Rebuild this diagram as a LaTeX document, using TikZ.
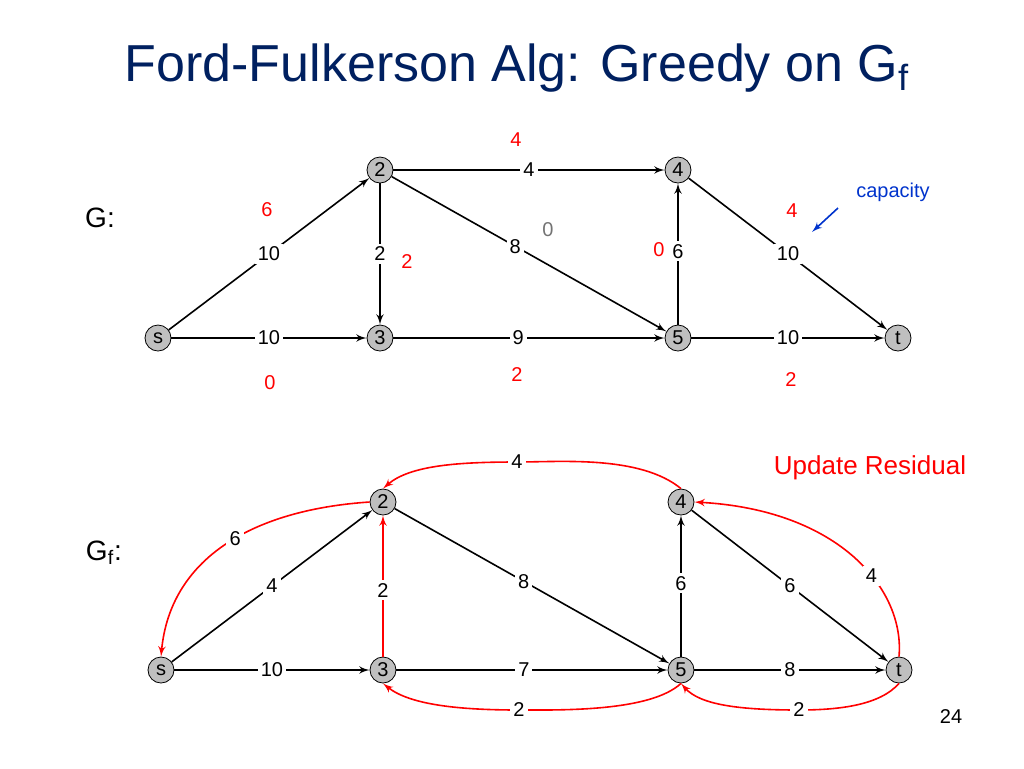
\documentclass[tikz,border=0pt]{standalone}
\usepackage{fontspec}
\setmainfont{Liberation Sans}
\usetikzlibrary{positioning,arrows,calc}
\definecolor{titleblue}{RGB}{0,32,96}
\definecolor{capblue}{RGB}{0,51,204}
\tikzset{
    vertex/.style = {
        draw,
        shape=circle,
        fill=black!25,
        inner sep=0pt,
        minimum size=13pt,
        font=\fontsize{10}{10}\selectfont
    },
    weight/.style = {
        fill=white,
        inner sep=1.5pt,
        font=\fontsize{10}{10}\selectfont
    },
    flow/.style = {
        text=red,
        font=\fontsize{10}{10}\selectfont
    },
    residual/.style = {
        draw=red,
        thick,
        ->
    },
    >=latex',
}
\begin{document}
\begin{tikzpicture}[x=0.5pt,y=-0.5pt]
                \useasboundingbox (0,0) rectangle (1024,768);
                \node[text=titleblue,font=\fontsize{26}{26}\selectfont] (title) at (517,68) {Ford-Fulkerson Alg: Greedy on G\textsubscript{f}};

                % network with flow
                \node[font=\fontsize{14}{14}\selectfont] (glabel) at (100,218) {G:};
                \node[vertex] (s) at (158,338) {s};
                \node[vertex] (two) at (380,170) {2};
                \node[vertex] (three) at (380,338) {3};
                \node[vertex] (four) at (678,170) {4};
                \node[vertex] (five) at (678,338) {5};
                \node[vertex] (t) at (898,338) {t};

                \path[draw, thick, ->] (s) -- node[weight, pos=0.5] {10} (two);
                \path[draw, thick, ->] (s) -- node[weight, pos=0.5] {10} (three);
                \path[draw, thick, ->] (two) -- node[weight] {4} (four);
                \path[draw, thick, ->] (two) -- node[weight] {2} (three);
                \path[draw, thick, ->] (two) -- node[weight, pos=0.45] {8} (five);
                \path[draw, thick, ->] (three) -- node[weight, pos=0.46] {9} (five);
                \path[draw, thick, ->] (five) -- node[weight, pos=0.52] {6} (four);
                \path[draw, thick, ->] (four) -- node[weight, pos=0.5] {10} (t);
                \path[draw, thick, ->] (five) -- node[weight, pos=0.5] {10} (t);

                \node[flow] (f24) at (516,140) {4};
                \node[flow] (fs2) at (267,210) {6};
                \node[text=black!55,font=\fontsize{10}{10}\selectfont] (f25) at (548,230) {0};
                \node[flow] (f54) at (659,250) {0};
                \node[flow] (f4t) at (792,211) {4};
                \node[flow] (f23) at (407,262) {2};
                \node[flow] (f35) at (517,375) {2};
                \node[flow] (fs3) at (270,383) {0};
                \node[flow] (f5t) at (791,380) {2};
                \node[text=capblue,font=\fontsize{10}{10}\selectfont] (cap) at (893,192) {capacity};
                \coordinate (captip) at (812,232);
                \path[draw, thick, ->, color=capblue] (838,208) -- (captip);

                % residual graph
                \node[font=\fontsize{14}{14}\selectfont] (gflabel) at (104,553) {G\textsubscript{f}:};
                \node[text=red,font=\fontsize{13}{13}\selectfont] (update) at (870,468) {Update Residual};
                \node[vertex] (rs) at (161,670) {s};
                \node[vertex] (rtwo) at (383,502) {2};
                \node[vertex] (rthree) at (383,670) {3};
                \node[vertex] (rfour) at (681,502) {4};
                \node[vertex] (rfive) at (681,670) {5};
                \node[vertex] (rt) at (899,670) {t};

                \path[draw, thick, ->] (rs) -- node[weight, pos=0.5] {4} (rtwo);
                \path[draw, thick, ->] (rs) -- node[weight, pos=0.5] {10} (rthree);
                \path[draw, thick, ->] (rtwo) -- node[weight, pos=0.47] {8} (rfive);
                \path[draw, thick, ->] (rthree) -- node[weight, pos=0.47] {7} (rfive);
                \path[draw, thick, ->] (rfive) -- node[weight, pos=0.52] {6} (rfour);
                \path[draw, thick, ->] (rfour) -- node[weight, pos=0.5] {6} (rt);
                \path[draw, thick, ->] (rfive) -- node[weight, pos=0.5] {8} (rt);

                \path[residual] (rthree) -- node[weight, pos=0.47] {2} (rtwo);
                \path[residual] (rtwo.west) .. controls (250,510) and (170,560) .. node[weight, pos=0.45] {6} (rs.north);
                \path[residual] (rfour.north) .. controls (640,455) and (560,462) .. (517,462) node[weight] (r42) {4}
                    .. controls (460,462) and (410,465) .. (rtwo.north);
                \path[residual] (rt.north) .. controls (905,590) and (840,510) .. node[weight, pos=0.4] {4} (rfour.east);
                \path[residual] (rfive.south) .. controls (650,712) and (560,710) .. (519,710) node[weight] (r53) {2}
                    .. controls (460,710) and (410,705) .. (rthree.south);
                \path[residual] (rt.south) .. controls (880,705) and (840,710) .. (799,710) node[weight] (rt5) {2}
                    .. controls (740,710) and (700,705) .. (rfive.south);

                \node[font=\fontsize{10}{10}\selectfont] (page) at (951,717) {24};
\end{tikzpicture}
\end{document}
